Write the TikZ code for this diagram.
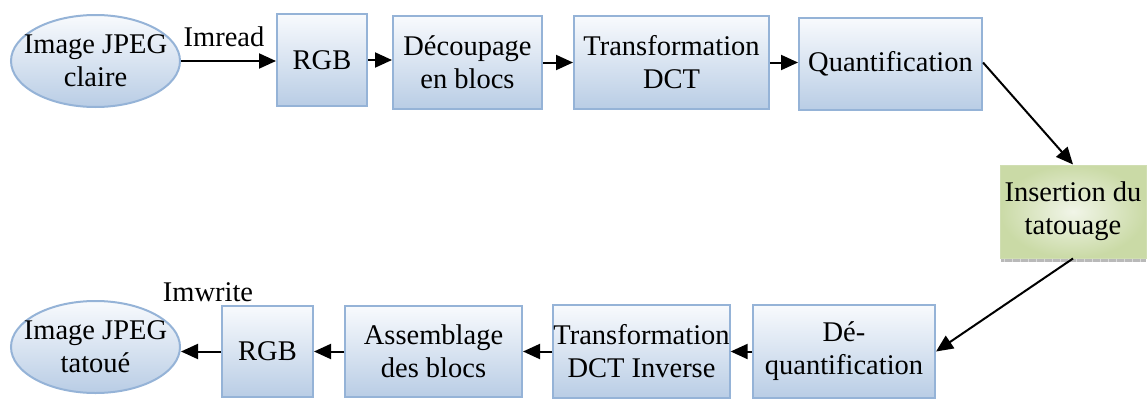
\documentclass[tikz,border=0pt]{standalone}
\usepackage{fontspec}
\setmainfont{LiberationSerif}[Extension=.ttf,UprightFont=*-Regular,BoldFont=*-Bold,ItalicFont=*-Italic,BoldItalicFont=*-BoldItalic]
\usetikzlibrary{arrows.meta,shapes.geometric}
\definecolor{boxtop}{HTML}{F8FAFD}
\definecolor{boxbot}{HTML}{B9CDE5}
\definecolor{boxline}{HTML}{95B3D7}
\definecolor{grin}{HTML}{F1F5E8}
\definecolor{grout}{HTML}{CADAA6}
\definecolor{grline}{HTML}{D0DEB2}
\begin{document}
\begin{tikzpicture}[x=1pt,y=-1pt,
  txt/.style={font=\rmfamily\fontsize{28.5}{33}\selectfont, align=center, inner sep=0pt},
  bluebox/.style={txt, rectangle, draw=boxline, line width=2pt, top color=boxtop, bottom color=boxbot},
  blueell/.style={txt, ellipse, inner xsep=-13pt, inner ysep=-1pt, draw=boxline, line width=2pt, top color=boxtop, bottom color=boxbot},
  greenbox/.style={txt, rectangle, draw=grline, line width=1pt, inner color=grin, outer color=grout},
  conn/.style={line width=2pt, -{Triangle[length=17pt,width=15pt]}},
  lbl/.style={font=\rmfamily\fontsize{28.5}{33}\selectfont, inner sep=0pt}
]
\useasboundingbox (0,0) rectangle (1147,399);
% top row
\node[blueell, minimum width=169pt, minimum height=92pt] (ell1) at (95.5,61) {Image JPEG\\claire};
\node[bluebox, minimum width=90pt, minimum height=92pt] (rgb1) at (322,60) {RGB};
\node[bluebox, minimum width=149pt, minimum height=93pt] (dec) at (467.5,62.5) {Découpage\\en blocs};
\node[bluebox, minimum width=195pt, minimum height=93pt] (dct) at (671.5,62.5) {Transformation\\DCT};
\node[bluebox, minimum width=183pt, minimum height=92pt] (quant) at (890.5,64) {Quantification};
% insertion
\fill[gray!55] (1001,258) rectangle (1146,262);
\foreach \i in {1004,1012,...,1144} {\draw[gray!30, line width=0.6pt] (\i,258) -- (\i,262);}
\node[greenbox, minimum width=146pt, minimum height=93pt] (ins) at (1073,211.5) {Insertion du\\tatouage};
% bottom row
\node[bluebox, minimum width=182pt, minimum height=93pt] (deq) at (844,351.5) {Dé-\\quantification};
\node[bluebox, minimum width=167pt, minimum height=93pt] (dcti) at (641.5,351.5) {Transformation\\DCT Inverse};
\node[bluebox, minimum width=177pt, minimum height=91pt] (ass) at (433.5,351.5) {Assemblage\\des blocs};
\node[bluebox, minimum width=91pt, minimum height=91pt] (rgb2) at (267.5,351.5) {RGB};
\node[blueell, minimum width=169pt, minimum height=92pt] (ell2) at (95.5,347) {Image JPEG\\tatoué};
% labels
\node[lbl] (imread) at (224,37) {Imread};
\node[lbl] (imwrite) at (208,292) {Imwrite};
% connectors
\draw[conn] (ell1.east) -- (rgb1.west |- ell1.east);
\draw[conn] (rgb1.east) -- (dec.west |- rgb1.east);
\draw[conn] (dec.east) -- (dct.west);
\draw[conn] (dct.east) -- (quant.west |- dct.east);
\draw[conn] (quant.east |- dct.east) -- (ins.north);
\draw[conn] (ins.south) -- (deq.east);
\draw[conn] (deq.west) -- (dcti.east);
\draw[conn] (dcti.west) -- (ass.east);
\draw[conn] (ass.west) -- (rgb2.east);
\draw[conn] (rgb2.west) -- (ell2.east |- rgb2.west);
\end{tikzpicture}
\end{document}
